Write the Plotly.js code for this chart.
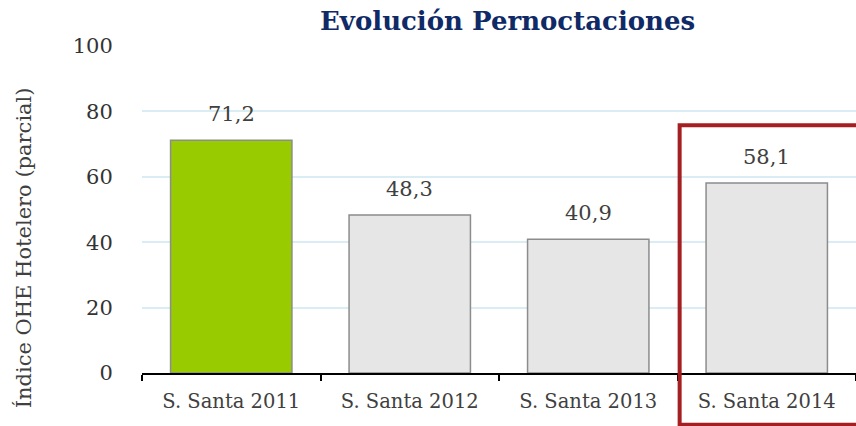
<!DOCTYPE html>
<html>
<head>
<meta charset="utf-8">
<script src="https://cdn.plot.ly/plotly-3.0.1.min.js"></script>
<style>html,body{margin:0;padding:0;background:#fff;}#chart{width:856px;height:426px;}</style>
</head>
<body>
<div id="chart"></div>
<script>
const categories = ["S. Santa 2011", "S. Santa 2012", "S. Santa 2013", "S. Santa 2014"];
const values = [71.2, 48.3, 40.9, 58.1];
const barColors = ["#99CC00", "#E6E6E6", "#E6E6E6", "#E6E6E6"];
const yTicks = [0, 20, 40, 60, 80, 100];
const yTitle = "Índice OHE Hotelero (parcial)";
const chartTitle = "Evolución Pernoctaciones";

const FONT = "Georgia, 'DejaVu Serif', 'Liberation Serif', serif";

const trace = {
  type: "bar",
  x: categories,
  y: values,
  marker: { color: barColors, line: { color: "#8C8C8C", width: 1.5 } },
  hoverinfo: "none"
};

const annotations = categories.map((c, i) => ({
  x: c, y: values[i], xref: "x", yref: "y",
  text: values[i].toFixed(1).replace(".", ","),
  showarrow: false, yanchor: "bottom", yshift: 12,
  font: { family: FONT, size: 21, color: "#404040" }
}));

annotations.push({
  xref: "paper", yref: "paper", x: -0.165, y: 0.382,
  xanchor: "center", yanchor: "middle", textangle: -90,
  text: yTitle, showarrow: false,
  font: { family: FONT, size: 21, color: "#404040" }
});

const layout = {
  width: 856, height: 426,
  margin: { l: 142, r: 0, t: 46, b: 53 },
  paper_bgcolor: "#fff", plot_bgcolor: "#fff",
  showlegend: false,
  bargap: 0.32,
  separators: ",.",
  title: {
    text: "<b>" + chartTitle + "</b>",
    font: { family: FONT, size: 26, color: "#0F2A66" },
    x: 0.593, xanchor: "center", y: 0.952, yanchor: "middle"
  },
  xaxis: {
    type: "category",
    range: [-0.5, 3.5],
    showline: true, linecolor: "#000", linewidth: 2,
    ticks: "outside", tickson: "boundaries", ticklen: 6, tickwidth: 2, tickcolor: "#000",
    ticklabelstandoff: 10,
    tickfont: { family: FONT, size: 19.5, color: "#404040" },
    showgrid: false, fixedrange: true
  },
  yaxis: {
    range: [0, 100],
    tickvals: yTicks,
    showline: false, zeroline: false,
    showgrid: true, gridcolor: "#DAEDF5", gridwidth: 2,
    ticks: "outside", ticklen: 24, tickcolor: "rgba(0,0,0,0)",
    tickfont: { family: FONT, size: 21, color: "#333333" },
    fixedrange: true
  },
  annotations: annotations,
  shapes: [{
    type: "rect", xref: "paper", yref: "paper",
    x0: 0.753, x1: 1.02, y0: -0.158, y1: 0.758,
    line: { color: "#A51F22", width: 4 }, fillcolor: "rgba(0,0,0,0)", layer: "above"
  }]
};

Plotly.newPlot("chart", [trace], layout, { displayModeBar: false, staticPlot: true });
</script>
</body>
</html>
